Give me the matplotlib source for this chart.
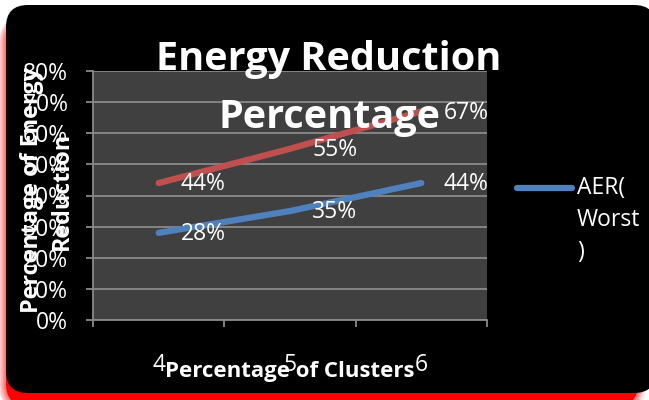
import matplotlib
matplotlib.use("Agg")
import matplotlib.pyplot as plt
from matplotlib.patches import FancyBboxPatch
from matplotlib.lines import Line2D
from matplotlib.ticker import FixedLocator, FuncFormatter

# Chart data
clusters = ["4", "5", "6"]
red_series = [44, 55, 67]          # percent
aer_worst = [28, 35, 44]           # percent
y_ticks = [0, 10, 20, 30, 40, 50, 60, 70, 80]

RED = "#C0504D"
BLUE = "#4F81BD"
GRID = "#8a8a8a"
FACE = "#404040"

plt.rcParams["font.family"] = ["Open Sans", "DejaVu Sans"]

W, H = 649, 400
fig = plt.figure(figsize=(W / 100, H / 100), dpi=100, facecolor="white")

# Background card: black rounded panel with a soft red drop shadow
bg = fig.add_axes([0, 0, 1, 1], zorder=-5)
bg.set_xlim(0, W)
bg.set_ylim(H, 0)
bg.axis("off")
sx0, sy0, sx1, sy1 = 6, 22, 638, 406
for g in range(7, 0, -1):
    bg.add_patch(FancyBboxPatch((sx0 - g, sy0 - g), sx1 - sx0 + 2 * g, sy1 - sy0 + 2 * g,
                                boxstyle=f"round,pad=0,rounding_size={22 + g}",
                                fc="#ff0000", ec="none", alpha=0.1))
bg.add_patch(FancyBboxPatch((sx0, sy0), sx1 - sx0, sy1 - sy0,
                            boxstyle="round,pad=0,rounding_size=22",
                            fc="#ff0000", ec="none"))
bg.add_patch(FancyBboxPatch((6, 5), 650, 388,
                            boxstyle="round,pad=0,rounding_size=22",
                            fc="black", ec="none"))

# Plot area
ax = fig.add_axes([93 / W, 80 / H, 394 / W, 249 / H])
ax.set_facecolor(FACE)
x = list(range(len(clusters)))

ax.plot(x, red_series, color=RED, lw=4.5, solid_capstyle="round",
        solid_joinstyle="round", zorder=3)
ax.plot(x, aer_worst, color=BLUE, lw=4.5, solid_capstyle="round",
        solid_joinstyle="round", zorder=3)

for ys in (red_series, aer_worst):
    for xi, yi in zip(x, ys):
        ax.annotate(f"{yi}%", (xi, yi), xytext=(16, -1), textcoords="offset points",
                    ha="left", va="center", color="white", fontsize=16.5, zorder=4)

ax.set_xlim(-0.5, len(clusters) - 0.5)
ax.set_ylim(0, 80)
ax.set_yticks(y_ticks)
ax.yaxis.set_major_formatter(FuncFormatter(lambda v, p: f"{v:.0f}%"))
ax.grid(axis="y", color=GRID, lw=1.3)
ax.set_axisbelow(True)

ax.xaxis.set_major_locator(FixedLocator([i - 0.5 for i in range(len(clusters) + 1)]))
ax.xaxis.set_major_formatter(FuncFormatter(lambda v, p: ""))
ax.xaxis.set_minor_locator(FixedLocator(x))
ax.xaxis.set_minor_formatter(FuncFormatter(lambda v, p: clusters[int(round(v))]))
ax.tick_params(axis="x", which="major", length=5, width=1.3, color=GRID)
ax.tick_params(axis="x", which="minor", length=0, pad=24, labelsize=16.5, labelcolor="white")
ax.tick_params(axis="y", length=5, width=1.3, color=GRID, pad=13,
               labelsize=16.5, labelcolor="white")

for side in ("top", "right"):
    ax.spines[side].set_visible(False)
for side in ("left", "bottom"):
    ax.spines[side].set_color(GRID)
    ax.spines[side].set_linewidth(1.3)

ax.set_xlabel("Percentage of Clusters", fontsize=16, fontweight="bold", color="white")
ax.xaxis.set_label_coords(0.5, -0.165)
ax.set_ylabel("Percentage of Energy\nReduction", fontsize=16.8, fontweight="bold",
              color="white", linespacing=1.3)
ax.yaxis.label.set_rotation_mode("default")
ax.yaxis.label.set_va("center")
ax.yaxis.label.set_ha("center")
ax.yaxis.set_label_coords(-0.117, 0.52)

# Title (two lines, overlapping the plot area)
fig.text(329 / W, 1 - 70 / H, "Energy Reduction", ha="center", va="baseline",
         fontsize=28.5, fontweight="bold", color="white", zorder=10)
fig.text(330 / W, 1 - 128 / H, "Percentage", ha="center", va="baseline",
         fontsize=28.5, fontweight="bold", color="white", zorder=10)

# Legend
fig.add_artist(Line2D([517 / W, 572 / W], [1 - 188 / H, 1 - 188 / H],
                      transform=fig.transFigure, color=BLUE, lw=4.5,
                      solid_capstyle="round"))
for yy, part in ((188, "AER("), (220, "Worst"), (252, ")")):
    fig.text(577 / W, 1 - yy / H, part, ha="left", va="center", fontsize=16.5, color="white")

fig.savefig("out.png", dpi=100, facecolor=fig.get_facecolor())
